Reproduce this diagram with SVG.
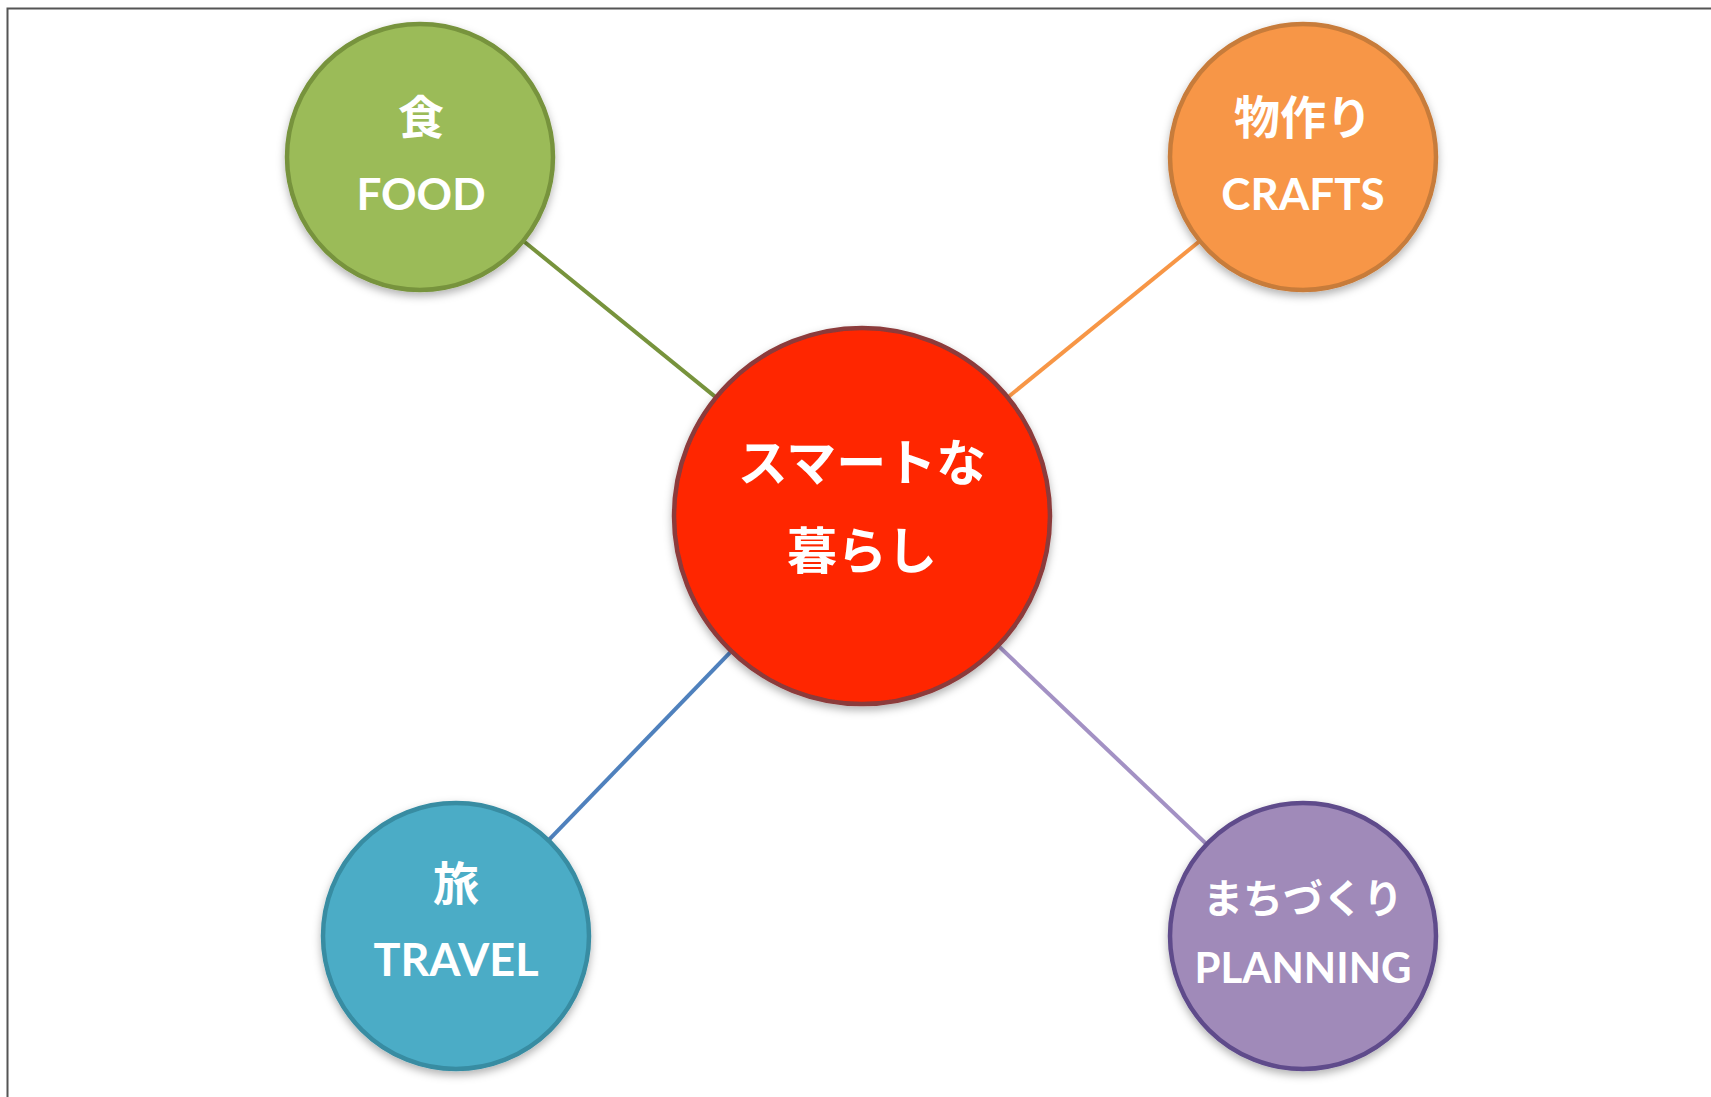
<svg xmlns="http://www.w3.org/2000/svg" width="1711" height="1097" viewBox="0 0 1711 1097">
<defs>
<style>
.t{font-family:Lato,"Noto Sans CJK JP",sans-serif;font-weight:bold;fill:#fff;text-anchor:middle}
.c{stroke-width:4.5}
.l{stroke-width:4;fill:none}
</style>
<filter id="sh" x="-20%" y="-20%" width="140%" height="140%">
<feDropShadow dx="0" dy="4" stdDeviation="4" flood-color="#000" flood-opacity="0.3"/>
</filter>
</defs>
<rect x="0" y="0" width="1711" height="1097" fill="#fff"/>
<rect x="7.5" y="8.5" width="1720" height="1110" fill="none" stroke="#555" stroke-width="2"/>
<g id="connectors">
<line class="l" x1="420" y1="157" x2="862" y2="516" stroke="#77933C"/>
<line class="l" x1="1303" y1="157" x2="862" y2="516" stroke="#F79646"/>
<line class="l" x1="456" y1="936" x2="862" y2="516" stroke="#4F81BD"/>
<line class="l" x1="1303" y1="936" x2="862" y2="516" stroke="#A391C4"/>
</g>
<g id="food">
<circle class="c" cx="420" cy="157" r="133" fill="#9BBB59" stroke="#77933C" filter="url(#sh)"/>
<text class="t" x="421" y="134" font-size="46">食</text>
<text class="t" x="421" y="210" font-size="44">FOOD</text>
</g>
<g id="crafts">
<circle class="c" cx="1303" cy="157" r="133" fill="#F79646" stroke="#C77B3A" filter="url(#sh)"/>
<text class="t" x="1303" y="134" font-size="46">物作り</text>
<text class="t" x="1303" y="210" font-size="44">CRAFTS</text>
</g>
<g id="center">
<circle class="c" cx="862" cy="516" r="188" fill="#FF2600" stroke="#8C3A3A" filter="url(#sh)"/>
<text class="t" x="862" y="481" font-size="50">スマートな</text>
<text class="t" x="862" y="569" font-size="50">暮らし</text>
</g>
<g id="travel">
<circle class="c" cx="456" cy="936" r="133" fill="#4BACC6" stroke="#378CA2" filter="url(#sh)"/>
<text class="t" x="456" y="900" font-size="46">旅</text>
<text class="t" x="456" y="976" font-size="45">TRAVEL</text>
</g>
<g id="planning">
<circle class="c" cx="1303" cy="936" r="133" fill="#A08AB9" stroke="#5F4B8B" filter="url(#sh)"/>
<text class="t" x="1303" y="913" font-size="40">まちづくり</text>
<text class="t" x="1303" y="983" font-size="42">PLANNING</text>
</g>
</svg>
